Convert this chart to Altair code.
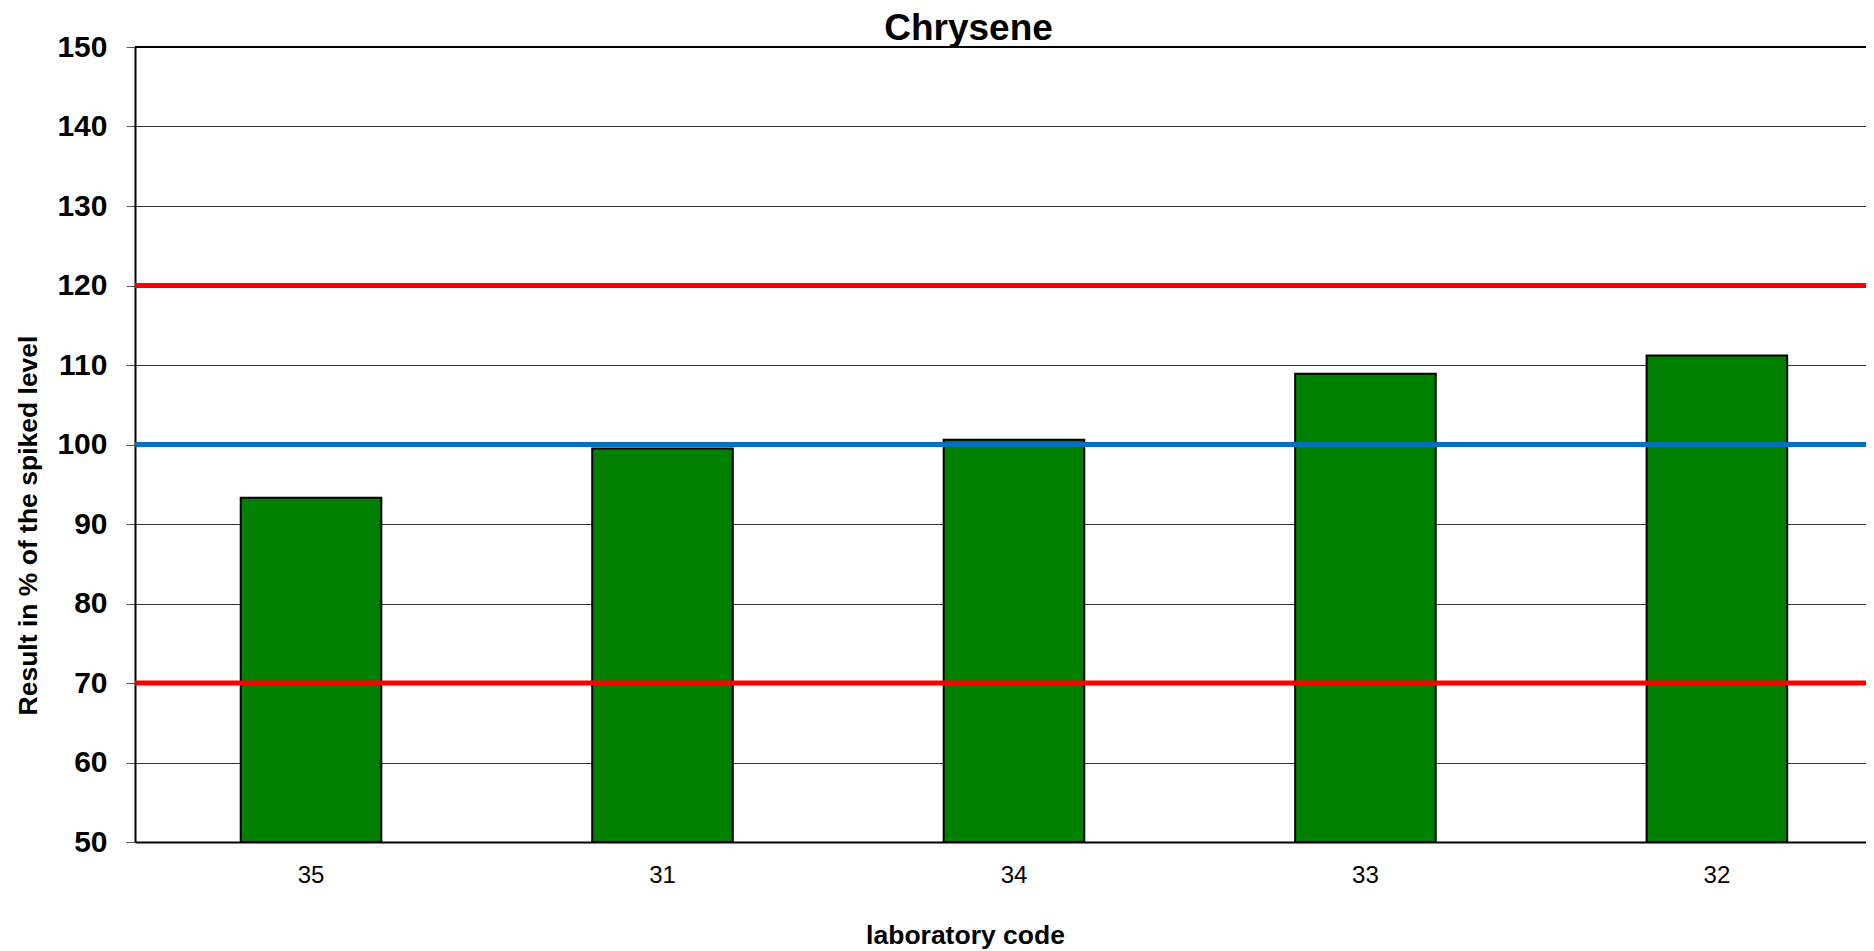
import altair as alt
import pandas as pd

labs = ["35", "31", "34", "33", "32"]
values = [93.3, 99.5, 100.6, 108.9, 111.2]
limit_values = [70, 120]
target_values = [100]
top_values = [150]

FONT = "Liberation Sans"

bars_df = pd.DataFrame({"lab": labs, "value": values})
limits_df = pd.DataFrame({"v": limit_values})
target_df = pd.DataFrame({"v": target_values})
top_df = pd.DataFrame({"v": top_values})

yscale = alt.Scale(domain=[50, 150], nice=False, zero=False)

bars = alt.Chart(bars_df).mark_bar(
    color="#008000", stroke="black", strokeWidth=2
).encode(
    x=alt.X(
        "lab:N",
        sort=labs,
        scale=alt.Scale(paddingInner=0.6, paddingOuter=0.2625, align=0.573),
        axis=alt.Axis(
            title="laboratory code",
            titleFont=FONT, titleFontSize=26.5, titleFontWeight="bold",
            titleX=830, titleY=101, titleAlign="center", titleBaseline="alphabetic",
            labelFont=FONT, labelFontSize=24, labelColor="black",
            labelAngle=0, labelBaseline="middle", labelPadding=33,
            ticks=False, domainColor="black", domainWidth=2, grid=False,
        ),
    ),
    y=alt.Y(
        "value:Q",
        scale=yscale,
        axis=alt.Axis(
            title="Result in % of the spiked level",
            titleFont=FONT, titleFontSize=26.5, titleFontWeight="bold",
            titleX=-107, titleY=478, titleAngle=270, titleAlign="center",
            titleBaseline="middle",
            values=list(range(50, 151, 10)),
            labelFont=FONT, labelFontSize=30, labelFontWeight="bold",
            labelColor="black", labelPadding=19,
            tickSize=9, tickColor="#555555", tickWidth=1,
            domainColor="black", domainWidth=2,
            grid=True, gridColor="#333333", gridWidth=1,
        ),
    ),
    y2=alt.datum(50),
)

limits = alt.Chart(limits_df).mark_rule(color="#FF0000", strokeWidth=5).encode(
    y=alt.Y("v:Q", scale=yscale)
)
target = alt.Chart(target_df).mark_rule(color="#0070C0", strokeWidth=5).encode(
    y=alt.Y("v:Q", scale=yscale)
)
top = alt.Chart(top_df).mark_rule(color="black", strokeWidth=2).encode(
    y=alt.Y("v:Q", scale=yscale)
)

chart = alt.layer(bars, limits, target, top).properties(
    width=1731,
    height=795,
    autosize=alt.AutoSizeParams(type="none"),
    padding={"left": 127, "top": 39, "right": 0, "bottom": 108},
    title=alt.TitleParams(
        "Chrysene", font=FONT, fontSize=37, fontWeight="bold", color="black",
        anchor="middle", frame="group", dx=-32, dy=20, offset=4,
    ),
).configure_view(stroke=None).configure(background="white")

chart.save("out.html", embed_options={"renderer": "svg", "actions": False})
